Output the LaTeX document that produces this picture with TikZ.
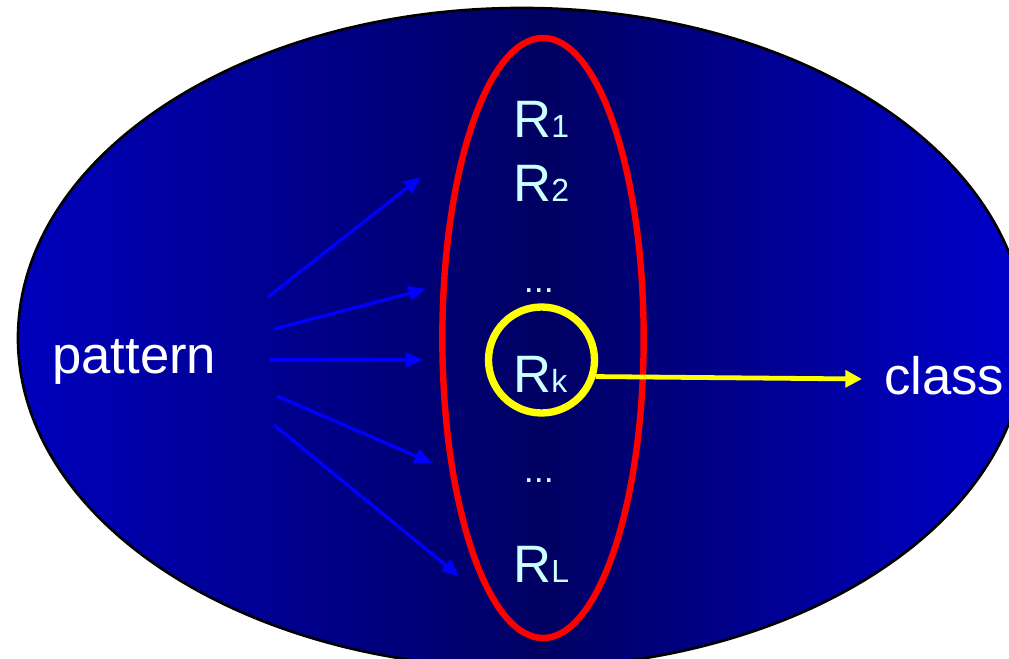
\documentclass[tikz,border=0pt]{standalone}
\usepackage{fontspec}
\setmainfont{Liberation Sans}
\usetikzlibrary{arrows.meta}
\definecolor{bgleft}{HTML}{0000BC}
\definecolor{bgmid}{HTML}{000062}
\definecolor{bgright}{HTML}{0000CC}
\definecolor{rtext}{HTML}{CCFFFF}
\definecolor{arrblue}{HTML}{0000FF}
\definecolor{ringyellow}{HTML}{FFFF00}
\definecolor{ovalred}{HTML}{FF0000}
\pgfdeclarehorizontalshading{bgshade}{100bp}{color(0bp)=(bgleft); color(25bp)=(bgleft); color(51bp)=(bgmid); color(75bp)=(bgright); color(100bp)=(bgright)}
\newcommand\mainsize{\fontsize{39.5}{46}\selectfont}
\newcommand\subsize{\fontsize{24}{28}\selectfont}
\newcommand\dotsize{\fontsize{27}{32}\selectfont}
\newcommand\rlab[1]{R{\subsize #1}}
\begin{document}
\begin{tikzpicture}[x=0.75pt,y=-0.75pt,
  txt/.style={inner sep=0pt,anchor=base west,font=\mainsize},
  rtxt/.style={txt,text=rtext},
  dtxt/.style={inner sep=0pt,anchor=base west,font=\dotsize,text=rtext},
  bluearrow/.style={draw=arrblue,line width=2.4pt,-{Triangle[length=13pt,width=11pt]}},
  yelarrow/.style={draw=ringyellow,line width=3.6pt,-{Triangle[length=12.5pt,width=12.5pt]}},
  ringstyle/.style={circle,draw=ringyellow,line width=5.5pt,minimum size=79.5pt,inner sep=0pt}]
\useasboundingbox (0,0) rectangle (1009,659);
\clip (0,0) rectangle (1009,659);
% background ellipse
\draw[line width=2pt,draw=black,shading=bgshade,shading angle=0]
  (522,338) ellipse [x radius=378pt, y radius=247.5pt];
% red oval
\draw[draw=ovalred,line width=4.8pt] (543,338) ellipse [x radius=75.5pt, y radius=225pt];
% texts
\node[txt,text=white] (pat) at (52,373) {pattern};
\node[txt,text=white] (cls) at (884,394) {class};
\node[rtxt] (r1) at (513,138) {\rlab{1}};
\node[rtxt] (r2) at (513,202) {\rlab{2}};
\node[dtxt] (d1) at (523.5,292) {...};
\node[rtxt] (rk) at (513,392) {\rlab{k}};
\node[dtxt] (d2) at (523.5,482) {...};
\node[rtxt] (rl) at (513,582) {\rlab{L}};
% yellow ring
\node[ringstyle] (ring) at (541.5,360) {};
% arrow coordinates
\coordinate (s1) at (268,297); \coordinate (t1) at (421,177);
\coordinate (s2) at (274,329); \coordinate (t2) at (426,289);
\coordinate (s3) at (270,360); \coordinate (t3) at (423,360);
\coordinate (s4) at (277,396); \coordinate (t4) at (432,463);
\coordinate (s5) at (274,425); \coordinate (t5) at (459,576);
\coordinate (ctip) at (862,379);
\draw[bluearrow] (s1) -- (t1);
\draw[bluearrow] (s2) -- (t2);
\draw[bluearrow] (s3) -- (t3);
\draw[bluearrow] (s4) -- (t4);
\draw[bluearrow] (s5) -- (t5);
\draw[yelarrow] (ring.-17) -- (ctip);
\end{tikzpicture}
\end{document}
